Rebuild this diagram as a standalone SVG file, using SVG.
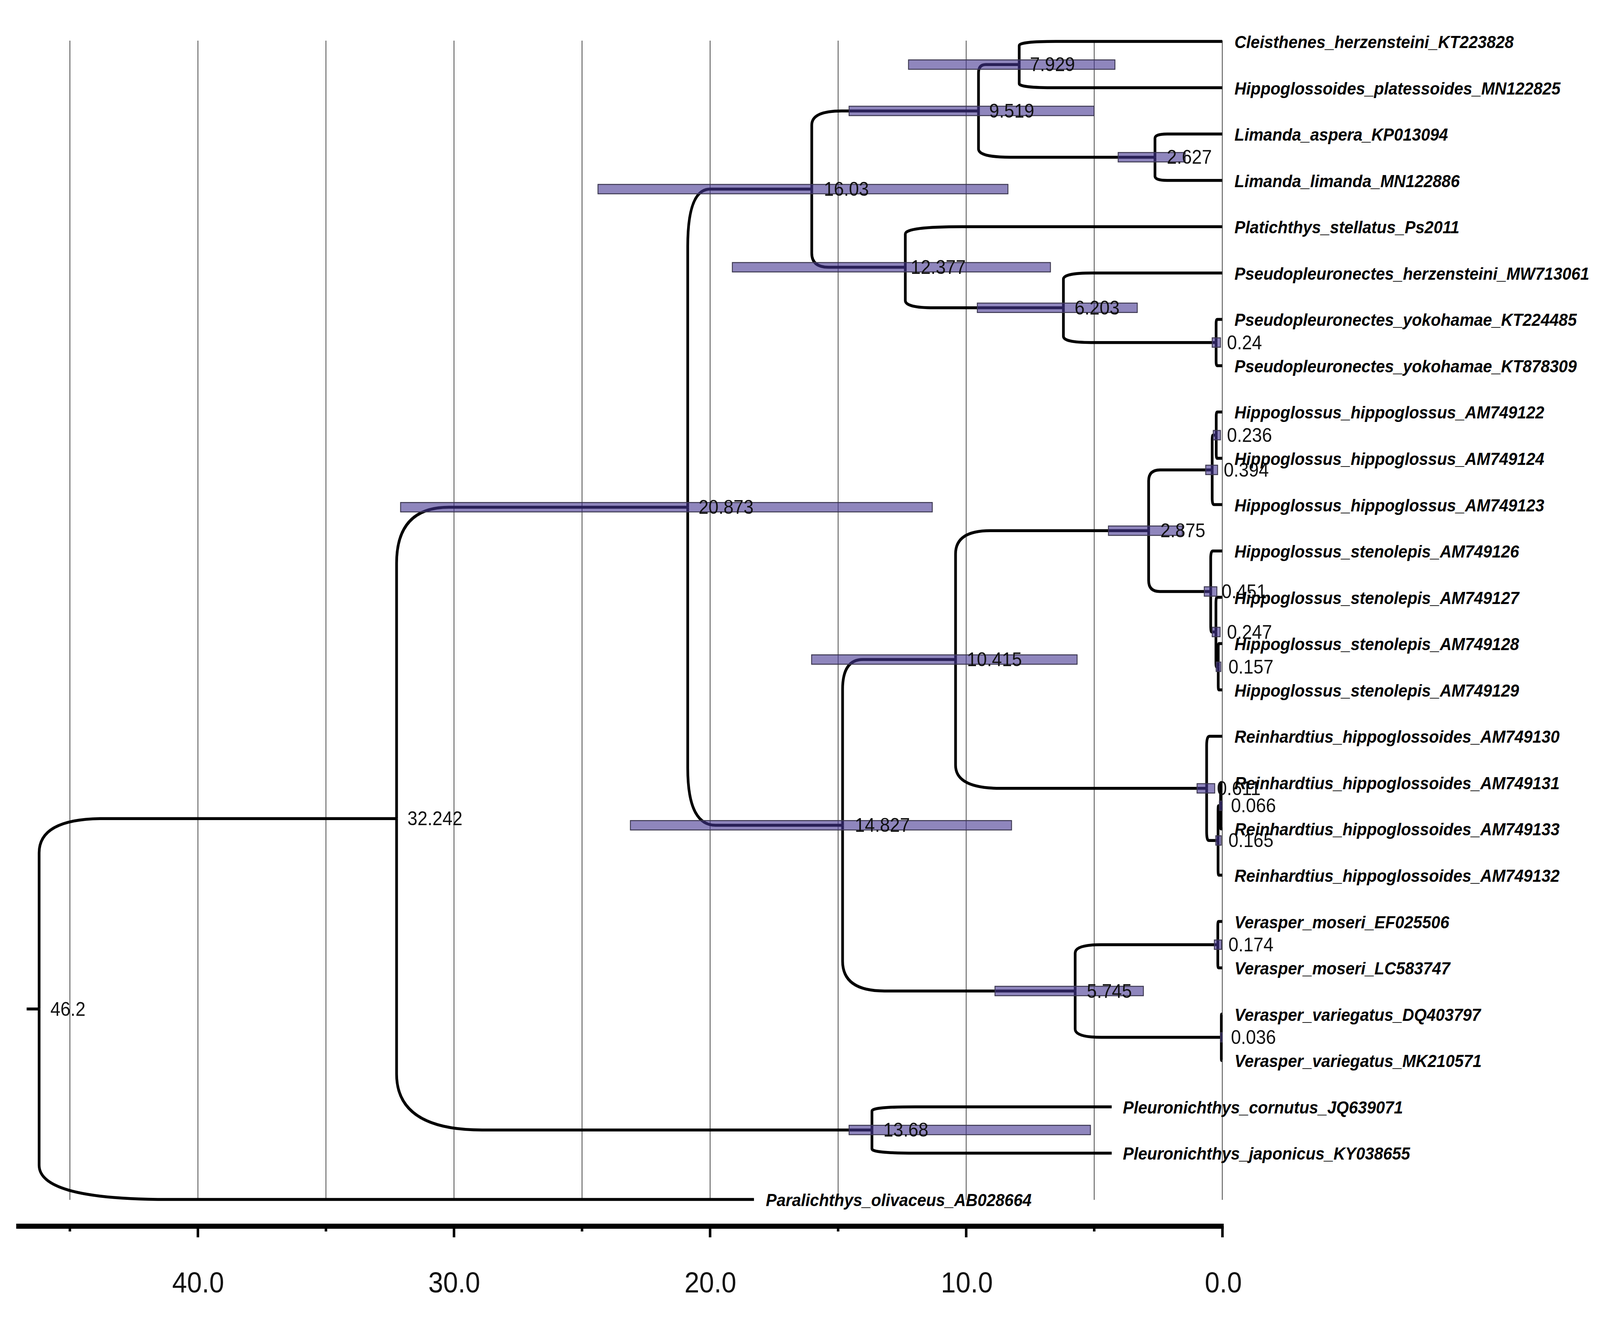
<svg xmlns="http://www.w3.org/2000/svg" width="4444" height="3376" viewBox="0 0 4444 3376">
<style>
.grid{stroke:#3a3a3a;stroke-width:2;fill:none}
.br{stroke:#000;stroke-width:7.5;fill:none;stroke-linecap:butt;stroke-linejoin:round}
.hpd{fill:#443591;fill-opacity:0.6;stroke:#3c3850;stroke-width:2.5}
.nl{font-family:"Liberation Sans",Arial,sans-serif;font-size:50px;fill:#111}
.tl{font-family:"Liberation Sans",Arial,sans-serif;font-size:45px;font-weight:bold;font-style:italic;fill:#000}
.ax{stroke:#000;fill:none}
.axl{font-family:"Liberation Sans",Arial,sans-serif;font-size:74px;fill:#111;text-anchor:middle}
</style>
<rect width="4444" height="3376" fill="#fff"/>
<g id="diagram" transform="scale(0.9222 1)">
<g id="gridlines">
<line class="grid" x1="194" y1="104" x2="194" y2="3071"/>
<line class="grid" x1="549.4" y1="104" x2="549.4" y2="3071"/>
<line class="grid" x1="904.8" y1="104" x2="904.8" y2="3071"/>
<line class="grid" x1="1260.3" y1="104" x2="1260.3" y2="3071"/>
<line class="grid" x1="1615.7" y1="104" x2="1615.7" y2="3071"/>
<line class="grid" x1="1971.2" y1="104" x2="1971.2" y2="3071"/>
<line class="grid" x1="2326.6" y1="104" x2="2326.6" y2="3071"/>
<line class="grid" x1="2682.1" y1="104" x2="2682.1" y2="3071"/>
<line class="grid" x1="3037.5" y1="104" x2="3037.5" y2="3071"/>
<line class="grid" x1="3393" y1="104" x2="3393" y2="3071"/>
</g>
<g id="connectors">
<path class="br" d="M74 2582.6 H108.6"/>
<path class="br" d="M108.6 2582.6 V2182.9 Q108.6 2095.2 287.2 2095.2 H1100.9"/>
<path class="br" d="M108.6 2582.6 V2982.3 Q108.6 3070 465.8 3070 H2093"/>
<path class="br" d="M1100.9 2095.2 V1441.7 Q1100.9 1298.2 1246.4 1298.2 H1909.1"/>
<path class="br" d="M1100.9 2095.2 V2748.7 Q1100.9 2892.2 1338.4 2892.2 H2420.5"/>
<path class="br" d="M1909.1 1298.2 V630.6 Q1909.1 484 1971.1 484 H2253.4"/>
<path class="br" d="M1909.1 1298.2 V1965.8 Q1909.1 2112.3 1986.5 2112.3 H2339"/>
<path class="br" d="M2253.4 484 V319.9 Q2253.4 283.9 2336.7 283.9 H2716.3"/>
<path class="br" d="M2253.4 484 V648 Q2253.4 684 2300.1 684 H2513.1"/>
<path class="br" d="M2716.3 283.9 V186.6 Q2716.3 165.3 2736.6 165.3 H2829.3"/>
<path class="br" d="M2716.3 283.9 V381.1 Q2716.3 402.4 2804.5 402.4 H3206.2"/>
<path class="br" d="M2829.3 165.3 V116.7 Q2829.3 106 2930.8 106 H3393"/>
<path class="br" d="M2829.3 165.3 V213.9 Q2829.3 224.6 2930.8 224.6 H3393"/>
<path class="br" d="M3206.2 402.4 V353.8 Q3206.2 343.1 3239.8 343.1 H3393"/>
<path class="br" d="M3206.2 402.4 V451 Q3206.2 461.7 3239.8 461.7 H3393"/>
<path class="br" d="M2513.1 684 V598.9 Q2513.1 580.2 2671.5 580.2 H3393"/>
<path class="br" d="M2513.1 684 V769.1 Q2513.1 787.8 2592.1 787.8 H2952"/>
<path class="br" d="M2952 787.8 V714.8 Q2952 698.8 3031.4 698.8 H3393"/>
<path class="br" d="M2952 787.8 V860.7 Q2952 876.7 3028.3 876.7 H3375.9"/>
<path class="br" d="M3375.9 876.7 V828.1 Q3375.9 817.4 3379 817.4 H3393"/>
<path class="br" d="M3375.9 876.7 V925.3 Q3375.9 935.9 3379 935.9 H3393"/>
<path class="br" d="M2339 2112.3 V1764.5 Q2339 1688.1 2395.4 1688.1 H2652.6"/>
<path class="br" d="M2339 2112.3 V2460.1 Q2339 2536.5 2455.2 2536.5 H2984.6"/>
<path class="br" d="M2652.6 1688.1 V1417.7 Q2652.6 1358.3 2749.1 1358.3 H3188.6"/>
<path class="br" d="M2652.6 1688.1 V1958.5 Q2652.6 2017.8 2778.1 2017.8 H3349.6"/>
<path class="br" d="M3188.6 1358.3 V1230.7 Q3188.6 1202.7 3220.4 1202.7 H3365"/>
<path class="br" d="M3188.6 1358.3 V1485.9 Q3188.6 1513.9 3219.6 1513.9 H3360.9"/>
<path class="br" d="M3365 1202.7 V1129.8 Q3365 1113.8 3367 1113.8 H3376.2"/>
<path class="br" d="M3365 1202.7 V1275.6 Q3365 1291.6 3370 1291.6 H3393"/>
<path class="br" d="M3376.2 1113.8 V1065.2 Q3376.2 1054.5 3379.2 1054.5 H3393"/>
<path class="br" d="M3376.2 1113.8 V1162.4 Q3376.2 1173 3379.2 1173 H3393"/>
<path class="br" d="M3360.9 1513.9 V1428.9 Q3360.9 1410.2 3366.7 1410.2 H3393"/>
<path class="br" d="M3360.9 1513.9 V1598.9 Q3360.9 1617.6 3363.5 1617.6 H3375.4"/>
<path class="br" d="M3375.4 1617.6 V1544.7 Q3375.4 1528.7 3378.6 1528.7 H3393"/>
<path class="br" d="M3375.4 1617.6 V1690.6 Q3375.4 1706.6 3376.6 1706.6 H3381.8"/>
<path class="br" d="M3381.8 1706.6 V1658 Q3381.8 1647.3 3383.8 1647.3 H3393"/>
<path class="br" d="M3381.8 1706.6 V1755.1 Q3381.8 1765.8 3383.8 1765.8 H3393"/>
<path class="br" d="M3349.6 2017.8 V1908.4 Q3349.6 1884.4 3357.4 1884.4 H3393"/>
<path class="br" d="M3349.6 2017.8 V2127.2 Q3349.6 2151.2 3355.3 2151.2 H3381.3"/>
<path class="br" d="M3381.3 2151.2 V2078.3 Q3381.3 2062.3 3382.6 2062.3 H3388.3"/>
<path class="br" d="M3381.3 2151.2 V2224.1 Q3381.3 2240.1 3383.4 2240.1 H3393"/>
<path class="br" d="M3388.3 2062.3 V2013.7 Q3388.3 2003 3389.1 2003 H3393"/>
<path class="br" d="M3388.3 2062.3 V2110.9 Q3388.3 2121.5 3389.1 2121.5 H3393"/>
<path class="br" d="M2984.6 2536.5 V2439.2 Q2984.6 2417.9 3055.9 2417.9 H3380.6"/>
<path class="br" d="M2984.6 2536.5 V2633.8 Q2984.6 2655.1 3057.6 2655.1 H3390.4"/>
<path class="br" d="M3380.6 2417.9 V2369.3 Q3380.6 2358.6 3382.8 2358.6 H3393"/>
<path class="br" d="M3380.6 2417.9 V2466.5 Q3380.6 2477.2 3382.8 2477.2 H3393"/>
<path class="br" d="M3390.4 2655.1 V2606.5 Q3390.4 2595.8 3390.9 2595.8 H3393"/>
<path class="br" d="M3390.4 2655.1 V2703.6 Q3390.4 2714.3 3390.9 2714.3 H3393"/>
<path class="br" d="M2420.5 2892.2 V2843.6 Q2420.5 2832.9 2540.3 2832.9 H3086"/>
<path class="br" d="M2420.5 2892.2 V2940.7 Q2420.5 2951.4 2540.3 2951.4 H3086"/>
</g>
<g id="node-46.2"><text class="nl" x="140" y="2600">46.2</text></g>
<g id="node-32.242"><text class="nl" x="1131" y="2112">32.242</text></g>
<g id="node-20.873"><rect class="hpd" x="1112" y="1286.2" width="1476" height="24"/><text class="nl" x="1939" y="1315">20.873</text></g>
<g id="node-16.03"><rect class="hpd" x="1660" y="472" width="1138" height="24"/><text class="nl" x="2287" y="501">16.03</text></g>
<g id="node-9.519"><rect class="hpd" x="2357" y="271.9" width="680" height="24"/><text class="nl" x="2746" y="301">9.519</text></g>
<g id="node-7.929"><rect class="hpd" x="2522" y="153.3" width="573" height="24"/><text class="nl" x="2859" y="182">7.929</text></g>
<g id="node-2.627"><rect class="hpd" x="3104" y="390.4" width="186" height="24"/><text class="nl" x="3239" y="419">2.627</text></g>
<g id="node-12.377"><rect class="hpd" x="2033" y="672" width="883" height="24"/><text class="nl" x="2528" y="701">12.377</text></g>
<g id="node-6.203"><rect class="hpd" x="2713" y="775.8" width="444" height="24"/><text class="nl" x="2983" y="805">6.203</text></g>
<g id="node-0.24"><rect class="hpd" x="3365" y="864.7" width="23" height="24"/><text class="nl" x="3406" y="894">0.24</text></g>
<g id="node-14.827"><rect class="hpd" x="1750" y="2100.3" width="1058" height="24"/><text class="nl" x="2373" y="2129">14.827</text></g>
<g id="node-10.415"><rect class="hpd" x="2253" y="1676.1" width="737" height="24"/><text class="nl" x="2684" y="1705">10.415</text></g>
<g id="node-2.875"><rect class="hpd" x="3077" y="1346.3" width="205" height="24"/><text class="nl" x="3221" y="1375">2.875</text></g>
<g id="node-0.394"><rect class="hpd" x="3347" y="1190.7" width="33" height="24"/><text class="nl" x="3397" y="1220">0.394</text></g>
<g id="node-0.236"><rect class="hpd" x="3368" y="1101.8" width="20" height="24"/><text class="nl" x="3406" y="1131">0.236</text></g>
<g id="node-0.451"><rect class="hpd" x="3343" y="1501.9" width="35" height="24"/><text class="nl" x="3391" y="1531">0.451</text></g>
<g id="node-0.247"><rect class="hpd" x="3365" y="1605.6" width="22" height="24"/><text class="nl" x="3406" y="1635">0.247</text></g>
<g id="node-0.157"><rect class="hpd" x="3376" y="1694.6" width="13" height="24"/><text class="nl" x="3410" y="1724">0.157</text></g>
<g id="node-0.611"><rect class="hpd" x="3323" y="2005.8" width="49" height="24"/><text class="nl" x="3378" y="2035">0.611</text></g>
<g id="node-0.066"><rect class="hpd" x="3385" y="2050.3" width="8" height="24"/><text class="nl" x="3417" y="2079">0.066</text></g>
<g id="node-0.165"><rect class="hpd" x="3375" y="2139.2" width="15" height="24"/><text class="nl" x="3410" y="2168">0.165</text></g>
<g id="node-5.745"><rect class="hpd" x="2762" y="2524.5" width="412" height="24"/><text class="nl" x="3017" y="2554">5.745</text></g>
<g id="node-0.174"><rect class="hpd" x="3371" y="2405.9" width="20" height="24"/><text class="nl" x="3410" y="2435">0.174</text></g>
<g id="node-0.036"><rect class="hpd" x="3388" y="2643.1" width="5" height="24"/><text class="nl" x="3417" y="2672">0.036</text></g>
<g id="node-13.68"><rect class="hpd" x="2357" y="2880.2" width="670" height="24"/><text class="nl" x="2452" y="2909">13.68</text></g>
<g id="tip-0"><text class="tl" x="3427" y="123">Cleisthenes_herzensteini_KT223828</text></g>
<g id="tip-1"><text class="tl" x="3427" y="241.6">Hippoglossoides_platessoides_MN122825</text></g>
<g id="tip-2"><text class="tl" x="3427" y="360.1">Limanda_aspera_KP013094</text></g>
<g id="tip-3"><text class="tl" x="3427" y="478.7">Limanda_limanda_MN122886</text></g>
<g id="tip-4"><text class="tl" x="3427" y="597.2">Platichthys_stellatus_Ps2011</text></g>
<g id="tip-5"><text class="tl" x="3427" y="715.8">Pseudopleuronectes_herzensteini_MW713061</text></g>
<g id="tip-6"><text class="tl" x="3427" y="834.4">Pseudopleuronectes_yokohamae_KT224485</text></g>
<g id="tip-7"><text class="tl" x="3427" y="952.9">Pseudopleuronectes_yokohamae_KT878309</text></g>
<g id="tip-8"><text class="tl" x="3427" y="1071.5">Hippoglossus_hippoglossus_AM749122</text></g>
<g id="tip-9"><text class="tl" x="3427" y="1190">Hippoglossus_hippoglossus_AM749124</text></g>
<g id="tip-10"><text class="tl" x="3427" y="1308.6">Hippoglossus_hippoglossus_AM749123</text></g>
<g id="tip-11"><text class="tl" x="3427" y="1427.2">Hippoglossus_stenolepis_AM749126</text></g>
<g id="tip-12"><text class="tl" x="3427" y="1545.7">Hippoglossus_stenolepis_AM749127</text></g>
<g id="tip-13"><text class="tl" x="3427" y="1664.3">Hippoglossus_stenolepis_AM749128</text></g>
<g id="tip-14"><text class="tl" x="3427" y="1782.8">Hippoglossus_stenolepis_AM749129</text></g>
<g id="tip-15"><text class="tl" x="3427" y="1901.4">Reinhardtius_hippoglossoides_AM749130</text></g>
<g id="tip-16"><text class="tl" x="3427" y="2020">Reinhardtius_hippoglossoides_AM749131</text></g>
<g id="tip-17"><text class="tl" x="3427" y="2138.5">Reinhardtius_hippoglossoides_AM749133</text></g>
<g id="tip-18"><text class="tl" x="3427" y="2257.1">Reinhardtius_hippoglossoides_AM749132</text></g>
<g id="tip-19"><text class="tl" x="3427" y="2375.6">Verasper_moseri_EF025506</text></g>
<g id="tip-20"><text class="tl" x="3427" y="2494.2">Verasper_moseri_LC583747</text></g>
<g id="tip-21"><text class="tl" x="3427" y="2612.8">Verasper_variegatus_DQ403797</text></g>
<g id="tip-22"><text class="tl" x="3427" y="2731.3">Verasper_variegatus_MK210571</text></g>
<g id="tip-23"><text class="tl" x="3117" y="2849.9">Pleuronichthys_cornutus_JQ639071</text></g>
<g id="tip-24"><text class="tl" x="3117" y="2968.4">Pleuronichthys_japonicus_KY038655</text></g>
<g id="tip-25"><text class="tl" x="2126" y="3087">Paralichthys_olivaceus_AB028664</text></g>
<g id="axis">
<line class="ax" x1="45" y1="3138.5" x2="3397" y2="3138.5" stroke-width="13"/>
<g class="ax" stroke-width="7">
<line x1="194" y1="3138" x2="194" y2="3152"/>
<line x1="549.4" y1="3138" x2="549.4" y2="3167"/>
<line x1="904.8" y1="3138" x2="904.8" y2="3152"/>
<line x1="1260.3" y1="3138" x2="1260.3" y2="3167"/>
<line x1="1615.7" y1="3138" x2="1615.7" y2="3152"/>
<line x1="1971.2" y1="3138" x2="1971.2" y2="3167"/>
<line x1="2326.6" y1="3138" x2="2326.6" y2="3152"/>
<line x1="2682.1" y1="3138" x2="2682.1" y2="3167"/>
<line x1="3037.5" y1="3138" x2="3037.5" y2="3152"/>
<line x1="3393.5" y1="3138" x2="3393.5" y2="3167"/>
</g>
<text class="axl" x="550" y="3308">40.0</text>
<text class="axl" x="1261" y="3308">30.0</text>
<text class="axl" x="1972" y="3308">20.0</text>
<text class="axl" x="2684" y="3308">10.0</text>
<text class="axl" x="3396" y="3308">0.0</text>
</g>
</g>
</svg>
